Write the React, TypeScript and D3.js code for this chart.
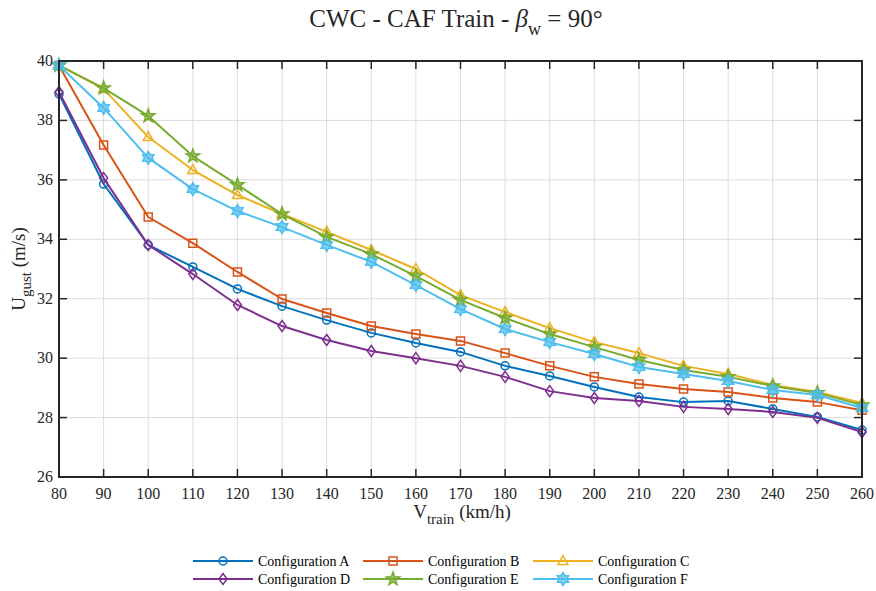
import React from "react";
import * as d3 from "d3";

const speeds = [80, 90, 100, 110, 120, 130, 140, 150, 160, 170, 180, 190, 200, 210, 220, 230, 240, 250, 260];
const configA = [38.89, 35.86, 33.81, 33.07, 32.33, 31.75, 31.28, 30.85, 30.51, 30.21, 29.74, 29.40, 29.03, 28.69, 28.52, 28.56, 28.29, 28.02, 27.58];
const configB = [39.85, 37.17, 34.75, 33.87, 32.90, 31.99, 31.52, 31.08, 30.81, 30.58, 30.17, 29.74, 29.37, 29.13, 28.96, 28.86, 28.66, 28.52, 28.25];
const configC = [39.85, 39.06, 37.44, 36.33, 35.49, 34.85, 34.25, 33.64, 33.00, 32.12, 31.55, 31.01, 30.54, 30.17, 29.74, 29.47, 29.10, 28.86, 28.49];
const configD = [38.96, 36.06, 33.81, 32.83, 31.79, 31.08, 30.61, 30.24, 30.00, 29.74, 29.37, 28.89, 28.66, 28.56, 28.36, 28.29, 28.19, 27.99, 27.51];
const configE = [39.85, 39.09, 38.15, 36.80, 35.83, 34.85, 34.08, 33.50, 32.76, 31.96, 31.35, 30.81, 30.37, 29.94, 29.60, 29.37, 29.06, 28.83, 28.42];
const configF = [39.85, 38.42, 36.74, 35.69, 34.95, 34.41, 33.81, 33.24, 32.46, 31.65, 30.98, 30.54, 30.14, 29.70, 29.47, 29.23, 28.93, 28.76, 28.32];
const seriesNames = ["Configuration A", "Configuration B", "Configuration C", "Configuration D", "Configuration E", "Configuration F"];
const seriesColors = ["#0072BD", "#D95319", "#EDB120", "#7E2F8E", "#77AC30", "#4DBEEE"];
const seriesMarkers = ["circle", "square", "triangle", "diamond", "pentagram", "hexagram"];
const xTicks = [80, 90, 100, 110, 120, 130, 140, 150, 160, 170, 180, 190, 200, 210, 220, 230, 240, 250, 260];
const yTicks = [26, 28, 30, 32, 34, 36, 38, 40];

const allSeries = [configA, configB, configC, configD, configE, configF];

const W = 876, H = 591;
const L = 59, R = 862, T = 61, B = 477;
const FONT = "'Liberation Serif', 'Times New Roman', serif";

function starPath(n: number, ro: number, ri: number) {
  const pts: [number, number][] = [];
  for (let i = 0; i < 2 * n; i++) {
    const r = i % 2 === 0 ? ro : ri;
    const a = -Math.PI / 2 + (i * Math.PI) / n;
    pts.push([r * Math.cos(a), r * Math.sin(a)]);
  }
  return "M" + pts.map((p) => p[0].toFixed(2) + "," + p[1].toFixed(2)).join("L") + "Z";
}

function markerPath(kind: string): string {
  switch (kind) {
    case "circle":
      return "M4,0A4,4 0 1,1 -4,0A4,4 0 1,1 4,0Z";
    case "square":
      return "M-4,-4L4,-4L4,4L-4,4Z";
    case "triangle":
      return "M0,-5.5L5,3.5L-5,3.5Z";
    case "diamond":
      return "M0,-5.5L4,0L0,5.5L-4,0Z";
    case "pentagram":
      return starPath(5, 7, 2.8);
    case "hexagram":
      return starPath(6, 6.5, 3.8);
  }
  return "";
}

const isStar = (k: string) => k === "pentagram" || k === "hexagram";

export default function App() {
  const x = d3.scaleLinear().domain([80, 260]).range([L, R]);
  const y = d3.scaleLinear().domain([26, 40]).range([B, T]);
  const line = d3
    .line<number>()
    .x((_, i) => x(speeds[i]))
    .y((d) => y(d));

  const legendCols = [193, 363, 533];
  const legendRows = [561, 579];

  return (
    <svg width={W} height={H} style={{ position: "absolute", left: 0, top: 0, background: "#fff" }} fontFamily={FONT}>
      <rect x={0} y={0} width={W} height={H} fill="#fff" />
      {xTicks.map((t) => (
        <line key={"gx" + t} x1={x(t)} x2={x(t)} y1={T} y2={B} stroke="#dcdcdc" strokeWidth={1} />
      ))}
      {yTicks.map((t) => (
        <line key={"gy" + t} x1={L} x2={R} y1={y(t)} y2={y(t)} stroke="#dcdcdc" strokeWidth={1} />
      ))}
      {allSeries.map((s, si) => (
        <g key={"s" + si}>
          <path d={line(s) || ""} fill="none" stroke={seriesColors[si]} strokeWidth={2} strokeLinejoin="round" />
          {s.map((v, i) => (
            <path
              key={i}
              d={markerPath(seriesMarkers[si])}
              transform={`translate(${x(speeds[i])},${y(v)})`}
              fill={isStar(seriesMarkers[si]) ? seriesColors[si] : "none"}
              fillOpacity={isStar(seriesMarkers[si]) ? 0.7 : 1}
              stroke={seriesColors[si]}
              strokeWidth={1.5}
            />
          ))}
        </g>
      ))}
      {xTicks.map((t) => (
        <g key={"tx" + t}>
          <line x1={x(t)} x2={x(t)} y1={B} y2={B - 8} stroke="#262626" strokeWidth={1.5} />
          <line x1={x(t)} x2={x(t)} y1={T} y2={T + 8} stroke="#262626" strokeWidth={1.5} />
          <text x={x(t)} y={B + 22} textAnchor="middle" fontSize={16} fill="#262626">
            {t}
          </text>
        </g>
      ))}
      {yTicks.map((t) => (
        <g key={"ty" + t}>
          <line x1={L} x2={L + 8} y1={y(t)} y2={y(t)} stroke="#262626" strokeWidth={1.5} />
          <line x1={R} x2={R - 8} y1={y(t)} y2={y(t)} stroke="#262626" strokeWidth={1.5} />
          <text x={L - 6} y={y(t) + 5} textAnchor="end" fontSize={16} fill="#262626">
            {t}
          </text>
        </g>
      ))}
      <rect x={L} y={T} width={R - L} height={B - T} fill="none" stroke="#262626" strokeWidth={2} />
      <text x={456} y={27} textAnchor="middle" fontSize={25} fill="#262626">
        CWC - CAF Train -{" "}
        <tspan fontStyle="italic">β</tspan>
        <tspan dy={8} fontSize={18}>w</tspan>
        <tspan dy={-8}> = 90°</tspan>
      </text>
      <text x={462} y={518} textAnchor="middle" fontSize={19} fill="#262626">
        V<tspan dy={6} fontSize={15}>train</tspan>
        <tspan dy={-6}> (km/h)</tspan>
      </text>
      <text transform={`translate(25,${(T + B) / 2}) rotate(-90)`} textAnchor="middle" fontSize={19} fill="#262626">
        U<tspan dy={6} fontSize={15}>gust</tspan>
        <tspan dy={-6}> (m/s)</tspan>
      </text>
      {seriesNames.map((name, i) => {
        const cx = legendCols[i % 3];
        const cy = legendRows[Math.floor(i / 3)];
        return (
          <g key={"lg" + i}>
            <line x1={cx} x2={cx + 60} y1={cy} y2={cy} stroke={seriesColors[i]} strokeWidth={2} />
            <path
              d={markerPath(seriesMarkers[i])}
              transform={`translate(${cx + 30},${cy})`}
              fill={isStar(seriesMarkers[i]) ? seriesColors[i] : "none"}
              fillOpacity={isStar(seriesMarkers[i]) ? 0.7 : 1}
              stroke={seriesColors[i]}
              strokeWidth={1.5}
            />
            <text x={cx + 65} y={cy + 5} fontSize={14} fill="#000">
              {name}
            </text>
          </g>
        );
      })}
    </svg>
  );
}
